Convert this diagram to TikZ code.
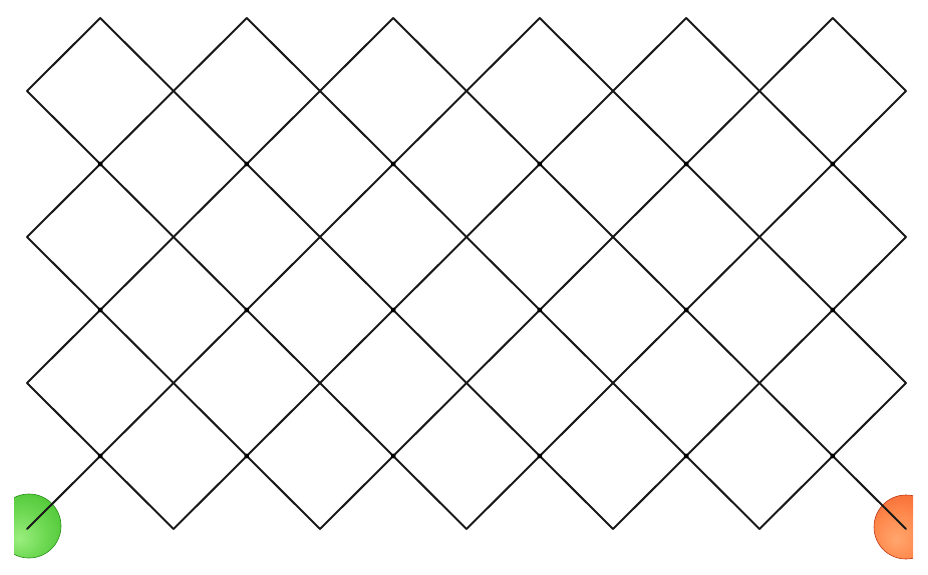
\documentclass[tikz,border=0pt]{standalone}
\definecolor{gA}{HTML}{9BEE7E}
\definecolor{gB}{HTML}{6FD954}
\definecolor{gC}{HTML}{44C12C}
\definecolor{gD}{HTML}{2A9E1A}
\definecolor{rA}{HTML}{FFA66E}
\definecolor{rB}{HTML}{FF8A4E}
\definecolor{rC}{HTML}{F2602A}
\definecolor{rD}{HTML}{D33A12}
\pgfdeclareradialshading{greenball}{\pgfpoint{-8bp}{-10bp}}{color(0bp)=(gA); color(18bp)=(gB); color(40bp)=(gC); color(56bp)=(gD); color(70bp)=(gD)}
\pgfdeclareradialshading{redball}{\pgfpoint{-8bp}{-10bp}}{color(0bp)=(rA); color(18bp)=(rB); color(40bp)=(rC); color(56bp)=(rD); color(70bp)=(rD)}
\begin{document}
\begin{tikzpicture}[x=1pt,y=1pt,
  gridline/.style={line width=2pt, draw=black!90, line cap=round, line join=round},
  crossdot/.style={fill=black},
  ballG/.style={shading=greenball, draw=gD!90!black, line width=0.6pt},
  ballR/.style={shading=redball, draw=rD!90!black, line width=0.6pt}]
\useasboundingbox (0,0) rectangle (928,574);
\foreach \i in {0,...,12}{\foreach \j in {0,...,7}{\coordinate (p\i-\j) at ({27+73.25*\i},{556-73*\j});}}
% balls
\begin{scope}
\clip (14,0) rectangle (913,574);
\path[ballG] (29,48) circle (32);
\path[ballR] (906,47) circle (32);
\end{scope}
% down-right lines
\draw[gridline] (p0-5) -- (p2-7);
\draw[gridline] (p0-3) -- (p4-7);
\draw[gridline] (p0-1) -- (p6-7);
\draw[gridline] (p1-0) -- (p8-7);
\draw[gridline] (p3-0) -- (p10-7);
\draw[gridline] (p5-0) -- (p12-7);
\draw[gridline] (p7-0) -- (p12-5);
\draw[gridline] (p9-0) -- (p12-3);
\draw[gridline] (p11-0) -- (p12-1);
% up-right lines
\draw[gridline] (p0-1) -- (p1-0);
\draw[gridline] (p0-3) -- (p3-0);
\draw[gridline] (p0-5) -- (p5-0);
\draw[gridline] (p0-7) -- (p7-0);
\draw[gridline] (p2-7) -- (p9-0);
\draw[gridline] (p4-7) -- (p11-0);
\draw[gridline] (p6-7) -- (p12-1);
\draw[gridline] (p8-7) -- (p12-3);
\draw[gridline] (p10-7) -- (p12-5);
% crossing dots
\foreach \i in {1,3,5,7,9,11}{\foreach \j in {2,4,6}{\fill[crossdot] (p\i-\j) circle (2.4);}}
\end{tikzpicture}
\end{document}
